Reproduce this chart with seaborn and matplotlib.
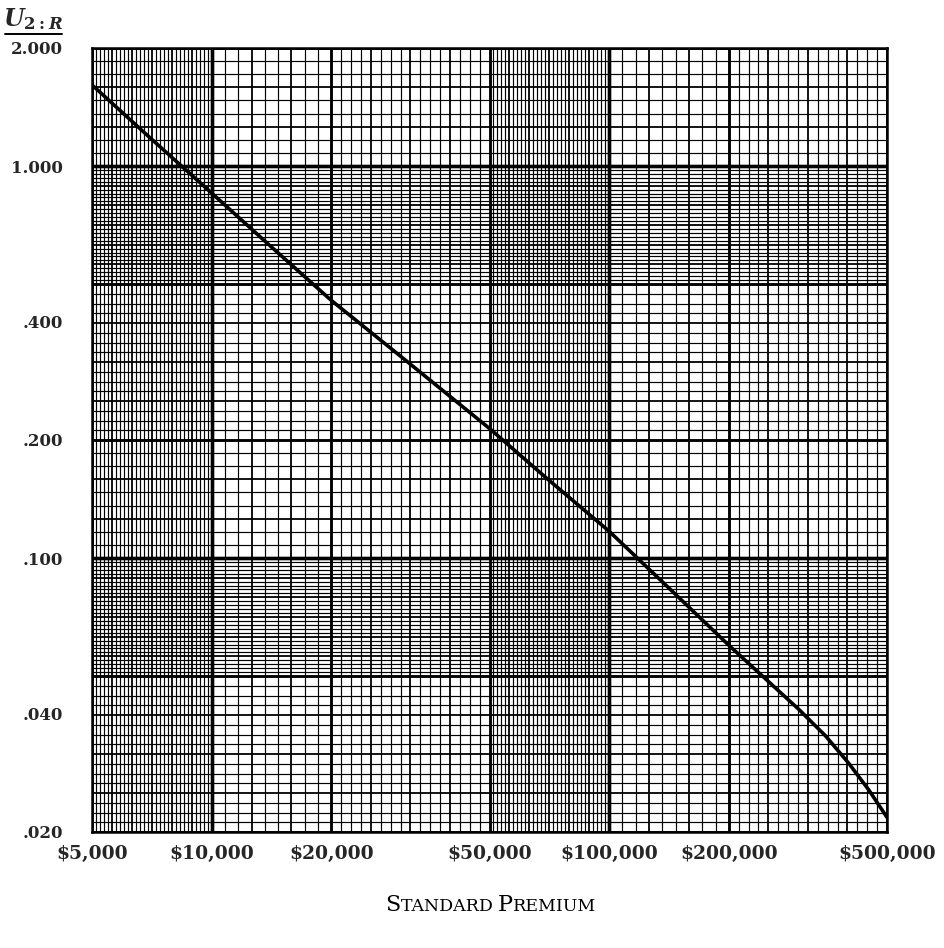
import numpy as np
import pandas as pd
import matplotlib
matplotlib.use("Agg")
import matplotlib.pyplot as plt
import seaborn as sns
from matplotlib.lines import Line2D
from matplotlib.offsetbox import TextArea, HPacker, AnnotationBbox

# ---- data ----
premium = [5000, 7000, 10000, 14000, 20000, 30000, 50000, 70000, 100000,
           140000, 200000, 300000, 350000, 400000, 450000, 500000]
u2r = [1.61, 1.18, 0.853, 0.627, 0.454, 0.326, 0.214, 0.159, 0.117,
       0.0846, 0.0599, 0.0411, 0.0352, 0.0300, 0.0256, 0.0218]

x_ticks = [5000, 10000, 20000, 50000, 100000, 200000, 500000]
x_labels = [r"\$5,000", r"\$10,000", r"\$20,000", r"\$50,000",
            r"\$100,000", r"\$200,000", r"\$500,000"]
y_ticks = [0.02, 0.04, 0.1, 0.2, 0.4, 1.0, 2.0]
y_labels = [".020", ".040", ".100", ".200", ".400", "1.000", "2.000"]

df = pd.DataFrame({"premium": premium, "u2r": u2r})

sns.set_style("white")
plt.rcParams["font.family"] = ["DejaVu Serif"]
plt.rcParams["mathtext.fontset"] = "custom"
plt.rcParams["mathtext.it"] = "DejaVu Serif:italic:bold"
plt.rcParams["mathtext.rm"] = "DejaVu Serif:bold"
plt.rcParams["mathtext.bf"] = "DejaVu Serif:bold"

W, H = 945, 948
fig = plt.figure(figsize=(W / 100, H / 100), dpi=100)
fig.patch.set_facecolor("white")
L, R, T, B = 92, 887, 48, 832
ax = fig.add_axes([L / W, 1 - B / H, (R - L) / W, (B - T) / H])
ax.set_facecolor("white")

ax.set_xscale("log")
ax.set_yscale("log")
ax.set_xlim(5000, 500000)
ax.set_ylim(0.02, 2.0)


# ---- graph-paper rulings: coarse in 1-2, medium in 2-5, dense in 5-10 of each decade ----
def paper_lines(lo, hi):
    out = []
    bands = [(1.0, 2.0, 9, 3), (2.0, 5.0, 16, 4), (5.0, 10.0, 30, 5)]
    k0 = int(np.floor(np.log10(lo))) - 1
    k1 = int(np.ceil(np.log10(hi))) + 1
    for k in range(k0, k1):
        base = 10.0 ** k
        for a, b, n, m in bands:
            edges = np.logspace(np.log10(a), np.log10(b), n + 1)
            for i, e in enumerate(edges):
                v = base * e
                if not (lo * 0.999 <= v <= hi * 1.001):
                    continue
                if abs(e - 1) < 1e-9 or abs(e - 10) < 1e-9:
                    w = 2.4
                elif abs(e - 2) < 1e-9 or abs(e - 5) < 1e-9:
                    w = 1.8
                elif i % m == 0:
                    w = 1.3
                else:
                    w = 0.85
                out.append((v, w))
    return out


for v, w in paper_lines(5000, 500000):
    ax.axvline(v, color="black", lw=w, zorder=1)
for v, w in paper_lines(0.02, 2.0):
    ax.axhline(v, color="black", lw=w, zorder=1)

sns.lineplot(data=df, x="premium", y="u2r", ax=ax, color="black",
             lw=2.6, zorder=3, legend=False)

ax.set_xticks(x_ticks)
ax.set_xticklabels(x_labels)
ax.set_yticks(y_ticks)
ax.set_yticklabels(y_labels)
ax.minorticks_off()
ax.tick_params(axis="both", length=0)
ax.tick_params(axis="x", pad=9, labelsize=13.5)
ax.tick_params(axis="y", pad=21, labelsize=12)
for lab in ax.get_xticklabels() + ax.get_yticklabels():
    lab.set_fontweight("bold")
ax.set_xlabel("")
ax.set_ylabel("")
for s in ax.spines.values():
    s.set_visible(True)
    s.set_color("black")
    s.set_linewidth(1.8)

# ---- y-axis quantity label above the top tick ----
fig.text(33 / W, 1 - 19 / H, r"$U_{2:R}$", ha="center", va="center", fontsize=17)
fig.add_artist(Line2D([5 / W, 62 / W], [1 - 34 / H, 1 - 34 / H],
                      transform=fig.transFigure, color="black", lw=1.4))

# ---- x-axis title in small capitals ----
big = dict(fontsize=16, family="DejaVu Serif", color="black")
small = dict(fontsize=12.5, family="DejaVu Serif", color="black")
parts = [TextArea("S", textprops=big), TextArea("TANDARD ", textprops=small),
         TextArea("P", textprops=big), TextArea("REMIUM", textprops=small)]
box = HPacker(children=parts, align="baseline", pad=0, sep=0)
ab = AnnotationBbox(box, (491 / W, 1 - 905 / H), xycoords="figure fraction",
                    frameon=False, box_alignment=(0.5, 0.5))
fig.add_artist(ab)

fig.savefig("out.png", dpi=100, facecolor="white")
